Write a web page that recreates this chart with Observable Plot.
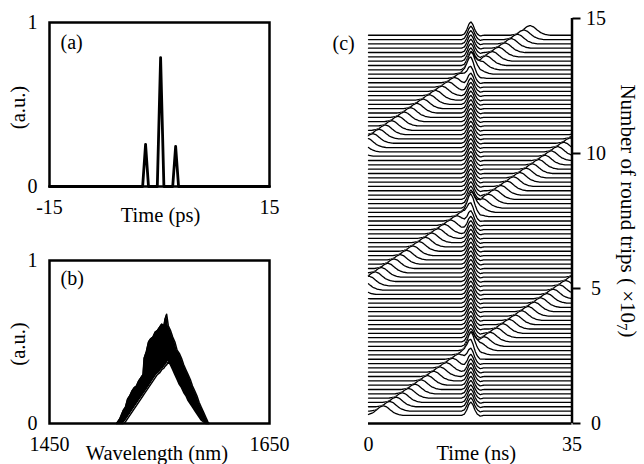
<!DOCTYPE html>
<html>
<head>
<meta charset="utf-8">
<script src="https://cdn.jsdelivr.net/npm/d3@7"></script>
<script src="https://cdn.jsdelivr.net/npm/@observablehq/plot@0.6"></script>
<style>
  html, body { margin: 0; padding: 0; background: #fff; }
  #chart { position: relative; width: 644px; height: 464px; overflow: hidden; background: #fff; }
  #chart svg { position: absolute; }
</style>
</head>
<body>
<div id="chart"></div>
<script>
// ---------- Panel (a): temporal intensity (three pulses) ----------
const pulseTime      = [-15, -2.3, -1.9, -1.5, -0.3, 0.15, 0.6, 1.8, 2.2, 2.6, 15];
const pulseIntensity = [0,    0,   0.257, 0,    0,   0.786, 0,   0,  0.245, 0,  0];
const pulseTicksX = [-15, 15];
const unitTicksY = [0, 1];

// ---------- Panel (b): spectrum (fringe band: lower / upper envelope) ----------
const specWavelength = [1511, 1514, 1517, 1519, 1521, 1523, 1525, 1527, 1529, 1531, 1533, 1535, 1536, 1538, 1540, 1542, 1544, 1546, 1548, 1550, 1552, 1554, 1555, 1556.5, 1558, 1560, 1562, 1564, 1566, 1568, 1570, 1572, 1574, 1576, 1578, 1580, 1582, 1584, 1586, 1588, 1590, 1592, 1594, 1595];
const specUpper = [0, 0.03, 0.08, 0.10, 0.15, 0.17, 0.20, 0.22, 0.23, 0.26, 0.28, 0.30, 0.40, 0.44, 0.50, 0.52, 0.53, 0.56, 0.57, 0.59, 0.61, 0.60, 0.64, 0.67, 0.60, 0.57, 0.53, 0.50, 0.45, 0.43, 0.40, 0.36, 0.33, 0.30, 0.27, 0.23, 0.20, 0.17, 0.13, 0.10, 0.07, 0.04, 0.01, 0];
const specLower = [0, 0, 0, 0.01, 0.03, 0.05, 0.07, 0.09, 0.11, 0.13, 0.15, 0.17, 0.18, 0.20, 0.22, 0.24, 0.26, 0.28, 0.30, 0.31, 0.33, 0.34, 0.35, 0.36, 0.38, 0.36, 0.33, 0.30, 0.27, 0.24, 0.22, 0.19, 0.17, 0.14, 0.12, 0.10, 0.08, 0.06, 0.04, 0.02, 0.01, 0, 0, 0];
const specTicksX = [1450, 1650];

// ---------- Panel (c): waterfall of round trips ----------
const roundTripFirst = 0.3;      // ×10^7, lowest trace
const roundTripStep = 0.16;      // ×10^7 between traces
const traceCount = 89;
const mainPulseCenterNs = 17.6;
const mainPulseOffsetNs = [-1.6, -1.1, -0.7, -0.35, 0, 0.35, 0.7, 1.1, 1.6, 2.2];
const mainPulseShape    = [0, 0.05, 0.2, 0.4, 0.5, 0.4, 0.2, 0.05, -0.03, 0];
const driftPulseOffsetNs = [-3.4, -2.6, -1.8, -1.2, -0.6, 0, 0.6, 1.2, 1.8, 2.6, 3.4];
const driftPulseShape    = [0, 0.03, 0.10, 0.20, 0.31, 0.36, 0.31, 0.20, 0.10, 0.03, 0];
const driftPassStart = [-0.08, 5.09, 10.27];   // round trips (×10^7) where the drifting pulse enters at 0 ns
const driftNsPerUnit = 6.76;                   // ns of drift per 10^7 round trips
const waterfallTicksY = [0, 5, 10, 15];
const waterfallTicksX = [0, 35];

// ---------- drawing ----------
const chart = document.getElementById("chart");
const FONT = "'Liberation Serif', 'Times New Roman', serif";
const baseStyle = {fontFamily: FONT, fontSize: "20px", color: "black", background: "transparent", overflow: "visible"};
function place(svg, left, top) {
  svg.style.left = left + "px";
  svg.style.top = top + "px";
  chart.appendChild(svg);
}
const fmt = d => String(d);
const ident = d => d;

// Panel (a)
const pulseData = pulseTime.map((t, i) => ({t, v: pulseIntensity[i]}));
const plotA = Plot.plot({
  width: 320, height: 232,
  marginLeft: 49, marginRight: 51, marginTop: 22, marginBottom: 46,
  x: {domain: [-15, 15]}, y: {domain: [0, 1]},
  style: baseStyle,
  marks: [
    Plot.lineY(pulseData, {x: "t", y: "v", stroke: "black", strokeWidth: 2.8}),
    Plot.frame({stroke: "black", strokeWidth: 2.5}),
    Plot.axisX({ticks: pulseTicksX, tickSize: 0, tickPadding: 13, tickFormat: fmt, label: null, fontSize: 20}),
    Plot.axisY({ticks: unitTicksY, tickSize: 0, tickPadding: 12, tickFormat: fmt, label: null, fontSize: 20}),
    Plot.text(["(a.u.)"], {text: ident, frameAnchor: "left", textAnchor: "middle", rotate: -90, dx: -31, dy: 3, fontSize: 20.5}),
    Plot.text(["(a)"], {text: ident, frameAnchor: "top-left", textAnchor: "start", lineAnchor: "middle", dx: 11, dy: 20, fontSize: 20}),
    Plot.text(["Time (ps)"], {text: ident, frameAnchor: "bottom", textAnchor: "middle", lineAnchor: "middle", dx: 1, dy: 29, fontSize: 20.5})
  ]
});
place(plotA, 0, 0);

// Panel (b)
const specData = specWavelength.map((w, i) => ({w, lo: specLower[i], hi: specUpper[i]}));
const plotB = Plot.plot({
  width: 320, height: 232,
  marginLeft: 49, marginRight: 51, marginTop: 28, marginBottom: 41,
  x: {domain: [1450, 1650]}, y: {domain: [0, 1]},
  style: baseStyle,
  marks: [
    Plot.areaY(specData, {x: "w", y1: "lo", y2: "hi", fill: "black"}),
    Plot.areaY(specData, {x: "w", y1: 0, y2: "lo", fill: "white"}),
    Plot.lineY(specData, {x: "w", y: "hi", stroke: "black", strokeWidth: 1.5}),
    Plot.lineY(specData, {x: "w", y: "lo", stroke: "black", strokeWidth: 1.5}),
    Plot.frame({stroke: "black", strokeWidth: 2.5}),
    Plot.axisX({ticks: specTicksX, tickSize: 0, tickPadding: 13, tickFormat: fmt, label: null, fontSize: 20}),
    Plot.axisY({ticks: unitTicksY, tickSize: 0, tickPadding: 12, tickFormat: fmt, label: null, fontSize: 20}),
    Plot.text(["(a.u.)"], {text: ident, frameAnchor: "left", textAnchor: "middle", rotate: -90, dx: -31, dy: 2, fontSize: 20.5}),
    Plot.text(["(b)"], {text: ident, frameAnchor: "top-left", textAnchor: "start", lineAnchor: "middle", dx: 11, dy: 18, fontSize: 20}),
    Plot.text(["Wavelength (nm)"], {text: ident, frameAnchor: "bottom", textAnchor: "middle", lineAnchor: "middle", dx: -2.6, dy: 30, fontSize: 20.5})
  ]
});
place(plotB, 0, 232);

// Panel (c)
const mainAt = d3.scaleLinear().domain(mainPulseOffsetNs).range(mainPulseShape).clamp(true);
const driftAt = d3.scaleLinear().domain(driftPulseOffsetNs).range(driftPulseShape).clamp(true);
const tGrid = d3.range(0, 35.0001, 0.125);
const roundTrips = d3.range(traceCount).map(i => roundTripFirst + i * roundTripStep);
const traceMarks = roundTrips.slice().reverse().flatMap(N => {
  const centers = driftPassStart.map(s => (N - s) * driftNsPerUnit).filter(c => c > -4 && c < 39);
  const pts = tGrid.map(t => ({
    t, b: N,
    v: N + mainAt(t - mainPulseCenterNs) + d3.sum(centers, c => driftAt(t - c))
  }));
  return [
    Plot.areaY(pts, {x: "t", y1: "b", y2: "v", fill: "white"}),
    Plot.lineY(pts, {x: "t", y: "v", stroke: "#000", strokeWidth: 1.3})
  ];
});
const plotC = Plot.plot({
  width: 324, height: 464,
  marginLeft: 48, marginRight: 72.5, marginTop: 18, marginBottom: 41,
  x: {domain: [0, 35]}, y: {domain: [0, 15]},
  style: baseStyle,
  marks: [
    ...traceMarks,
    Plot.ruleY([0], {stroke: "black", strokeWidth: 2.5}),
    Plot.ruleX([35], {stroke: "black", strokeWidth: 2.5}),
    Plot.axisX({ticks: waterfallTicksX, tickSize: 0, tickPadding: 13, tickFormat: fmt, label: null, fontSize: 20}),
    Plot.axisY({anchor: "right", ticks: waterfallTicksY, tickSize: 8, tickPadding: 16, textAnchor: "middle", strokeWidth: 2, tickFormat: fmt, label: null, fontSize: 20}),
    Plot.text(["(c)"], {text: ident, frameAnchor: "top-left", textAnchor: "start", lineAnchor: "middle", dx: -36, dy: 25, fontSize: 20}),
    Plot.text(["Time (ns)"], {text: ident, frameAnchor: "bottom", textAnchor: "middle", lineAnchor: "middle", dx: 6, dy: 30, fontSize: 20.5}),
    Plot.text(["Number of round trips ( ×10)"], {text: ident, frameAnchor: "right", textAnchor: "middle", rotate: 90, dx: 55.5, dy: -10, fontSize: 21})
  ]
});
place(plotC, 320, 0);

// exponent in the y label
d3.select(plotC).selectAll("text").filter(function() { return this.textContent === "Number of round trips ( ×10)"; })
  .each(function() {
    const t = d3.select(this);
    t.text(null);
    t.append("tspan").text("Number of round trips ( ×10");
    t.append("tspan").attr("dy", "0.25em").attr("font-size", "15px").text("7");
    t.append("tspan").attr("dy", "-0.25em").text(")");
  });
</script>
</body>
</html>
